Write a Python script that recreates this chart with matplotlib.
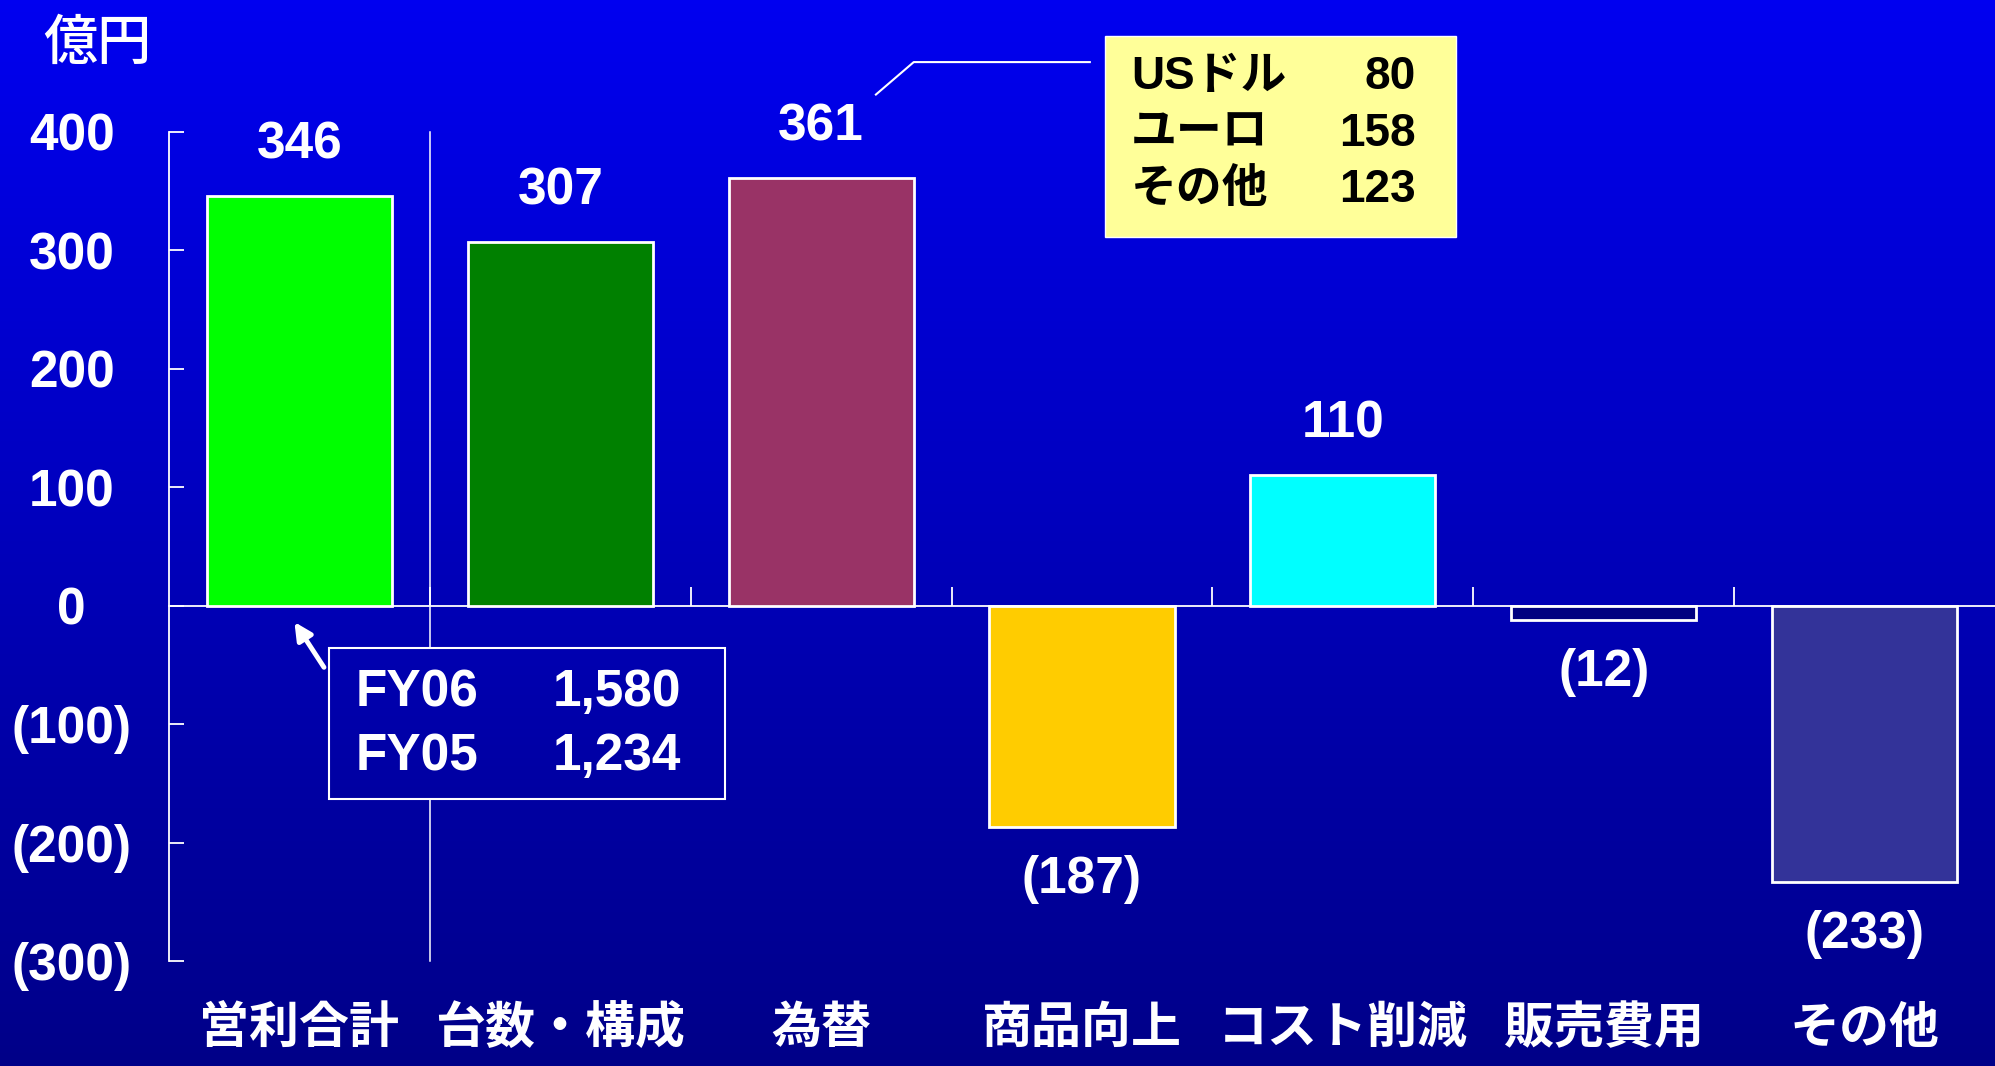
import matplotlib
matplotlib.use('Agg')
import matplotlib.pyplot as plt
import numpy as np
from matplotlib.patches import Rectangle
from matplotlib.colors import LinearSegmentedColormap

# data
categories = ['営利合計', '台数・構成', '為替', '商品向上', 'コスト削減', '販売費用', 'その他']
values = [346, 307, 361, -187, 110, -12, -233]
bar_colors = ['#00FF00', '#008000', '#993366', '#FFCC00', '#00FFFF', '#000080', '#333399']
y_ticks = [400, 300, 200, 100, 0, -100, -200, -300]

fx_labels = ['USドル', 'ユーロ', 'その他']
fx_values = [80, 158, 123]
fy_labels = ['FY06', 'FY05']
fy_values = [1580, 1234]


def fmt(v):
    return f'({abs(v):,})' if v < 0 else f'{v:,}'


plt.rcParams['font.family'] = ['Liberation Sans', 'Noto Sans CJK JP']
plt.rcParams['font.weight'] = 'bold'

fig = plt.figure(figsize=(19.95, 10.66), dpi=100)

# gradient background
bg = fig.add_axes([0, 0, 1, 1])
cmap = LinearSegmentedColormap.from_list('bg', ['#0000F0', '#000088'])
bg.imshow(np.linspace(0, 1, 256).reshape(-1, 1), aspect='auto', cmap=cmap,
          extent=[0, 1, 0, 1], origin='upper')
bg.axis('off')

ax = fig.add_axes([0.0847, 0.0985, 0.9153, 0.7777])
ax.patch.set_alpha(0)

x = np.arange(len(categories))
ax.bar(x, values, width=0.71, color=bar_colors, edgecolor='white', linewidth=2, zorder=3)

ax.set_xlim(-0.5, 6.5)
ax.set_ylim(-300, 400)
for s in ['top', 'right']:
    ax.spines[s].set_visible(False)
ax.spines['left'].set_color('white')
ax.spines['left'].set_linewidth(1.3)
ax.spines['bottom'].set_position(('data', 0))
ax.spines['bottom'].set_color('white')
ax.spines['bottom'].set_linewidth(1.3)

ax.set_yticks(y_ticks)
ax.set_yticklabels([fmt(v) for v in y_ticks])
for lab in ax.get_yticklabels():
    lab.set_ha('center')
ax.tick_params(axis='y', direction='in', length=11, width=1.3, colors='white',
               labelsize=37, pad=70)
ax.set_xticks(np.arange(0.5, 6.5, 1))
ax.set_xticklabels([])
ax.tick_params(axis='x', direction='in', length=14, width=1.3, colors='white')

# value labels
for i, v in enumerate(values):
    ax.annotate(fmt(v), (i, v), xytext=(0, 37 if v > 0 else -38),
                textcoords='offset points', ha='center', va='center',
                fontsize=37, color='white')

# category labels (kept just inside the bottom edge)
for i, c in enumerate(categories):
    ax.text(i, -358, c, ha='center', va='center', fontsize=36, color='white',
            fontweight='bold', clip_on=False)

fig.text(97 / 1995, 1 - 45 / 1066, '億円', ha='center', va='center',
         fontsize=39, color='white', fontweight='medium')

# total operating profit box
box_x0, box_x1, box_y0, box_y1 = 0.115, 1.632, -163, -36
ax.plot([0.5, 0.5], [400, box_y1], color='white', lw=1.1, clip_on=False)
ax.plot([0.5, 0.5], [box_y0, -300], color='white', lw=1.1, clip_on=False)
ax.add_patch(Rectangle((box_x0, box_y0), box_x1 - box_x0, box_y1 - box_y0,
                       fc='none', ec='white', lw=1.5, clip_on=False, zorder=4))
for k, (lab, val) in enumerate(zip(fy_labels, fy_values)):
    yy = -73.5 - 54 * k
    ax.text(0.214, yy, lab, ha='left', va='center', fontsize=37, color='white')
    ax.text(1.464, yy, f'{val:,}', ha='right', va='center', fontsize=37, color='white')
ax.annotate('', xy=(-0.025, -11.8), xytext=(0.10, -54),
            arrowprops=dict(arrowstyle='-|>', color='white', lw=3.5, mutation_scale=26))

# FX breakdown box
ax.plot([2.21, 2.355, 3.03], [431.6, 459, 459], color='white', lw=1.5, clip_on=False)
ax.add_patch(Rectangle((3.089, 311.6), 4.434 - 3.089, 481 - 311.6, fc='#FFFF99',
                       ec='white', lw=1, clip_on=False, zorder=4))
for k, (lab, val) in enumerate(zip(fx_labels, fx_values)):
    yy = 446 - 47.5 * k
    ax.text(3.188, yy, lab, ha='left', va='center', fontsize=33, color='black',
            zorder=5, clip_on=False)
    ax.text(4.281, yy, str(val), ha='right', va='center', fontsize=33, color='black',
            zorder=5, clip_on=False)

fig.savefig('out.png', dpi=100)
